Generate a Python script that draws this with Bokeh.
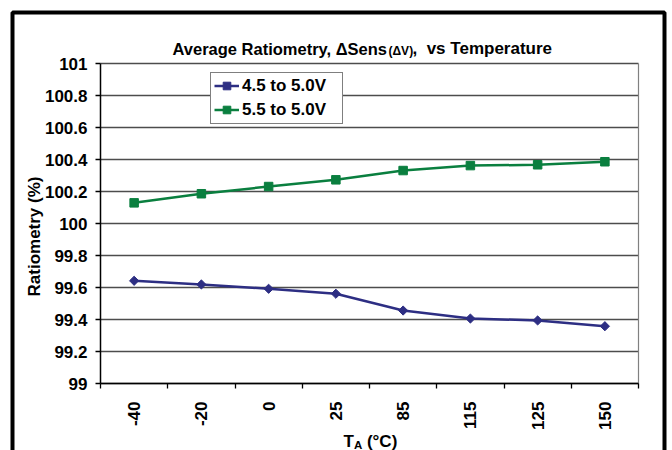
import numpy as np
from bokeh.plotting import figure
from bokeh.models import FixedTicker, Label, BoxAnnotation, Range1d
from bokeh.embed import file_html
from bokeh.resources import INLINE

# ---- data ----
temps = ["-40", "-20", "0", "25", "85", "115", "125", "150"]
ratio_45 = [99.642, 99.619, 99.592, 99.561, 99.456, 99.406, 99.394, 99.358]
ratio_55 = [100.129, 100.186, 100.231, 100.273, 100.331, 100.362, 100.367, 100.386]
series_names = ["4.5 to 5.0V", "5.5 to 5.0V"]
y_ticks = [99, 99.2, 99.4, 99.6, 99.8, 100, 100.2, 100.4, 100.6, 100.8, 101]
y_tick_labels = ["99", "99.2", "99.4", "99.6", "99.8", "100", "100.2", "100.4", "100.6", "100.8", "101"]

# ---- layout (canvas pixels, origin top-left) ----
W, H = 672, 450
PL, PR = 100, 638          # plot area left/right
PT, PB = 63, 383           # plot area top/bottom

FONT = "Liberation Sans"
FS = "17px"
BLUE = "#2D2E83"
GREEN = "#0A7F3F"

xs = list(range(len(temps)))
boundaries = [i - 0.5 for i in range(len(temps) + 1)]
x0, x1 = boundaries[0], boundaries[-1]
y0, y1 = y_ticks[0], y_ticks[-1]
xppu = (PR - PL) / (x1 - x0)
yppu = (PB - PT) / (y1 - y0)
x_range = Range1d(x0 - PL / xppu, x1 + (W - PR) / xppu)
y_range = Range1d(y0 - (H - PB) / yppu, y1 + PT / yppu)

def px2x(px):
    return x0 + (px - PL) / xppu

def py2y(py):
    return y0 + (PB - py) / yppu

p = figure(width=W, height=H, x_range=x_range, y_range=y_range,
           output_backend="svg", toolbar_location=None,
           min_border_left=0, min_border_right=0, min_border_top=0, min_border_bottom=0,
           background_fill_color="white", border_fill_color="white",
           outline_line_color=None)
p.min_border = 0
p.title.visible = False
p.xgrid.visible = False
p.ygrid.visible = False

# horizontal gridlines and plot-area right edge
n = len(y_ticks)
p.segment(x0=[x0] * n, y0=y_ticks, x1=[x1] * n, y1=y_ticks, line_color="#4d4d4d", line_width=1.3)
p.segment(x0=[x1], y0=[y0], x1=[x1], y1=[y1], line_color="#808080", line_width=1.2)

# series
p.line(xs, ratio_45, color=BLUE, line_width=2.5, legend_label=series_names[0])
p.scatter(xs, ratio_45, marker="square", angle=np.pi / 4, size=6.5, color=BLUE, legend_label=series_names[0])
p.line(xs, ratio_55, color=GREEN, line_width=2.5, legend_label=series_names[1])
p.scatter(xs, ratio_55, marker="square", size=8.5, color=GREEN, legend_label=series_names[1])

# x axis
xa = p.xaxis[0]
xa.fixed_location = y0
xa.bounds = (x0, x1)
xa.ticker = FixedTicker(ticks=xs, minor_ticks=boundaries)
xa.major_label_overrides = {i: t for i, t in enumerate(temps)}
xa.major_label_orientation = np.pi / 2
xa.major_tick_out = 0
xa.major_tick_in = 0
xa.minor_tick_out = 5
xa.minor_tick_in = 0
xa.minor_tick_line_color = "black"
xa.minor_tick_line_width = 1.3
xa.axis_line_color = "black"
xa.axis_line_width = 1.5
xa.major_label_standoff = 13
xa.major_label_text_font = FONT
xa.major_label_text_font_style = "bold"
xa.major_label_text_font_size = FS
xa.major_label_text_color = "black"

# y axis
ya = p.yaxis[0]
ya.fixed_location = x0
ya.bounds = (y0, y1)
ya.ticker = FixedTicker(ticks=y_ticks, minor_ticks=[])
ya.major_label_overrides = {v: l for v, l in zip(y_ticks, y_tick_labels)}
ya.major_tick_out = 5
ya.major_tick_in = 0
ya.major_tick_line_color = "black"
ya.major_tick_line_width = 1.3
ya.axis_line_color = "black"
ya.axis_line_width = 1.5
ya.major_label_standoff = 8
ya.major_label_text_font = FONT
ya.major_label_text_font_style = "bold"
ya.major_label_text_font_size = FS
ya.major_label_text_color = "black"

# legend
leg = p.legend[0]
leg.location = (210, H - 123.5)
leg.margin = 0
leg.padding = 3
leg.spacing = 4
leg.label_height = 19
leg.glyph_height = 19
leg.glyph_width = 25
leg.label_standoff = 3
leg.label_width = 97
leg.border_line_color = "black"
leg.border_line_width = 1
leg.background_fill_color = "white"
leg.background_fill_alpha = 1
leg.label_text_font = FONT
leg.label_text_font_style = "bold"
leg.label_text_font_size = FS
leg.label_text_color = "black"

# outer chart border (bottom edge lies below the visible canvas)
p.add_layout(BoxAnnotation(left=px2x(12), right=px2x(664), top=py2y(12), bottom=py2y(520),
                           fill_alpha=0, line_color="black", line_alpha=1, line_width=4,
                           level="overlay"))

def lab(x, py, text, size, angle=0.0, align="left", baseline="alphabetic"):
    p.add_layout(Label(x=x, y=H - py, x_units="screen", y_units="screen", text=text, angle=angle,
                       text_font=FONT, text_font_style="bold", text_font_size=size,
                       text_color="black", text_align=align, text_baseline=baseline))

# chart title with subscript
lab(172, 48.3, "Average Ratiometry, \u0394Sens", "16.5px")
lab(388, 50.8, "(\u0394V)", "12px")
lab(412, 48.3, ",\u00a0 vs Temperature", FS)

# x-axis title T_A (°C)
lab(343, 441, "T", FS)
lab(353.4, 444, "A", "11.5px")
lab(366.4, 441, "(\u00b0C)", FS)

# y-axis title
lab(34, 236, "Ratiometry (%)", FS, angle=np.pi / 2, align="center", baseline="middle")

open("out.html", "w").write(file_html(p, INLINE))
